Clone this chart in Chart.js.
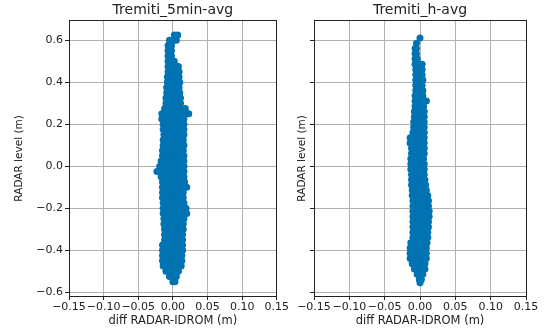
<!DOCTYPE html>
<html>
<head>
<meta charset="utf-8">
<script src="https://cdn.jsdelivr.net/npm/chart.js@4"></script>
<style>
  html, body { margin: 0; padding: 0; background: #fff; }
  #wrap { position: relative; width: 545px; height: 331px; }
  canvas { position: absolute; top: 0; }
  #c1 { left: 0; }
  #c2 { left: 290px; }
</style>
</head>
<body>
<div id="wrap">
  <canvas id="c1" width="290" height="331"></canvas>
  <canvas id="c2" width="255" height="331"></canvas>
</div>
<script>
// Titoli e assi
const titoli = ["Tremiti_5min-avg", "Tremiti_h-avg"];
const labelX = "diff RADAR-IDROM (m)";
const labelY = "RADAR level (m)";
const xTicks = [-0.15, -0.10, -0.05, 0.00, 0.05, 0.10, 0.15];
const yTicks = [-0.6, -0.4, -0.2, 0.0, 0.2, 0.4, 0.6];

// Tremiti_5min-avg: livelli RADAR e differenze lette per ogni livello
const livelli5min = [0.625, 0.600, 0.575, 0.550, 0.525, 0.500, 0.475, 0.450, 0.425, 0.400,
  0.375, 0.350, 0.325, 0.300, 0.275, 0.250, 0.225, 0.200, 0.175, 0.150,
  0.125, 0.100, 0.075, 0.050, 0.025, 0.000, -0.025, -0.050, -0.075, -0.100,
  -0.125, -0.150, -0.175, -0.200, -0.225, -0.250, -0.275, -0.300, -0.325, -0.350,
  -0.375, -0.400, -0.425, -0.450, -0.475, -0.500, -0.525, -0.550];
const diff5min = [
  [0.002, 0.007],
  [-0.005, 0.001, 0.005],
  [-0.007, -0.002],
  [-0.007, -0.002],
  [-0.007, -0.002],
  [-0.007, -0.002, 0.002],
  [-0.007, -0.001, 0.005, 0.008],
  [-0.007, -0.001, 0.005, 0.009],
  [-0.008, -0.002, 0.004, 0.009],
  [-0.008, -0.002, 0.004, 0.010],
  [-0.009, -0.003, 0.003, 0.009],
  [-0.009, -0.003, 0.003, 0.010],
  [-0.010, -0.004, 0.002, 0.008, 0.011],
  [-0.010, -0.004, 0.002, 0.008, 0.011],
  [-0.012, -0.006, 0.000, 0.006, 0.012, 0.018],
  [-0.016, -0.010, -0.004, 0.002, 0.008, 0.014, 0.020, 0.023],
  [-0.016, -0.010, -0.004, 0.002, 0.008, 0.014, 0.016],
  [-0.014, -0.008, -0.002, 0.004, 0.010, 0.016],
  [-0.014, -0.008, -0.002, 0.004, 0.010, 0.016],
  [-0.013, -0.007, -0.001, 0.005, 0.011, 0.016],
  [-0.014, -0.008, -0.002, 0.004, 0.010, 0.015],
  [-0.014, -0.008, -0.002, 0.004, 0.010, 0.016],
  [-0.015, -0.009, -0.003, 0.003, 0.009, 0.015],
  [-0.015, -0.009, -0.003, 0.003, 0.009, 0.016],
  [-0.017, -0.011, -0.005, 0.001, 0.007, 0.013, 0.016],
  [-0.019, -0.013, -0.007, -0.001, 0.005, 0.011, 0.016],
  [-0.023, -0.017, -0.011, -0.005, 0.001, 0.007, 0.013, 0.016],
  [-0.017, -0.011, -0.005, 0.001, 0.007, 0.013, 0.016],
  [-0.015, -0.009, -0.003, 0.003, 0.009, 0.015, 0.017],
  [-0.015, -0.009, -0.003, 0.003, 0.009, 0.015, 0.020],
  [-0.015, -0.009, -0.003, 0.003, 0.009, 0.015],
  [-0.015, -0.009, -0.003, 0.003, 0.009, 0.015],
  [-0.014, -0.008, -0.002, 0.004, 0.010, 0.016],
  [-0.014, -0.008, -0.002, 0.004, 0.010, 0.016, 0.019],
  [-0.014, -0.008, -0.002, 0.004, 0.010, 0.016, 0.020],
  [-0.013, -0.007, -0.001, 0.005, 0.011, 0.016],
  [-0.013, -0.007, -0.001, 0.005, 0.011, 0.015],
  [-0.012, -0.006, 0.000, 0.006, 0.012, 0.015],
  [-0.012, -0.006, 0.000, 0.006, 0.012, 0.014],
  [-0.012, -0.006, 0.000, 0.006, 0.012, 0.014],
  [-0.015, -0.009, -0.003, 0.003, 0.009, 0.014],
  [-0.015, -0.009, -0.003, 0.003, 0.009, 0.014],
  [-0.015, -0.009, -0.003, 0.003, 0.009, 0.013],
  [-0.015, -0.009, -0.003, 0.003, 0.009, 0.013],
  [-0.014, -0.008, -0.002, 0.004, 0.010, 0.012],
  [-0.010, -0.004, 0.002, 0.008],
  [-0.005, 0.001, 0.005],
  [0.000, 0.003]
];

// Tremiti_h-avg
const livelliOra = [0.610, 0.585, 0.560, 0.535, 0.510, 0.485, 0.460, 0.435, 0.410, 0.385,
  0.360, 0.335, 0.310, 0.285, 0.260, 0.235, 0.210, 0.185, 0.160, 0.135,
  0.110, 0.085, 0.060, 0.035, 0.010, -0.015, -0.040, -0.065, -0.090, -0.115,
  -0.140, -0.165, -0.190, -0.215, -0.240, -0.265, -0.290, -0.315, -0.340, -0.365,
  -0.390, -0.415, -0.440, -0.465, -0.490, -0.515, -0.540, -0.555];
const diffOra = [
  [0.000],
  [-0.005],
  [-0.007, -0.005],
  [-0.007, -0.005],
  [-0.007, -0.004],
  [-0.007, -0.002, 0.003],
  [-0.006, 0.000, 0.003],
  [-0.006, 0.000, 0.003],
  [-0.006, 0.000, 0.004],
  [-0.006, 0.000, 0.003],
  [-0.006, 0.000, 0.004],
  [-0.007, -0.001, 0.004],
  [-0.007, -0.001, 0.005, 0.009],
  [-0.007, -0.001, 0.005],
  [-0.008, -0.002, 0.004, 0.006],
  [-0.008, -0.002, 0.004, 0.006],
  [-0.009, -0.003, 0.003, 0.006],
  [-0.009, -0.003, 0.003, 0.006],
  [-0.010, -0.004, 0.002, 0.006],
  [-0.014, -0.008, -0.002, 0.004, 0.006],
  [-0.014, -0.008, -0.002, 0.004, 0.006],
  [-0.012, -0.006, 0.000, 0.006],
  [-0.012, -0.006, 0.000, 0.006],
  [-0.013, -0.007, -0.001, 0.005],
  [-0.013, -0.007, -0.001, 0.005, 0.006],
  [-0.013, -0.007, -0.001, 0.005, 0.006],
  [-0.012, -0.006, 0.000, 0.006],
  [-0.012, -0.006, 0.000, 0.006, 0.007],
  [-0.012, -0.006, 0.000, 0.006, 0.008],
  [-0.011, -0.005, 0.001, 0.007, 0.009],
  [-0.011, -0.005, 0.001, 0.007, 0.011],
  [-0.010, -0.004, 0.002, 0.008, 0.012],
  [-0.010, -0.004, 0.002, 0.008, 0.012],
  [-0.010, -0.004, 0.002, 0.008, 0.013],
  [-0.010, -0.004, 0.002, 0.008, 0.013],
  [-0.010, -0.004, 0.002, 0.008, 0.012],
  [-0.010, -0.004, 0.002, 0.008, 0.012],
  [-0.010, -0.004, 0.002, 0.008, 0.011],
  [-0.010, -0.004, 0.002, 0.008, 0.011],
  [-0.013, -0.007, -0.001, 0.005, 0.010],
  [-0.014, -0.008, -0.002, 0.004, 0.009],
  [-0.014, -0.008, -0.002, 0.004, 0.009],
  [-0.014, -0.008, -0.002, 0.004, 0.009],
  [-0.011, -0.005, 0.001, 0.007],
  [-0.008, -0.002, 0.004, 0.007],
  [-0.004, 0.002, 0.004],
  [-0.001, 0.002],
  [0.000]
];

const BLU = "#0173b2";
const NERO = "#222222";
const GRIGLIA = "#b0b0b0";

Chart.defaults.font.family = "'DejaVu Sans', sans-serif";
Chart.defaults.color = NERO;

function punti(livelli, diff) {
  return livelli.flatMap((y, i) => diff[i].map(x => ({ x: x, y: y })));
}

function meno(v, dec) {
  const s = Math.abs(v).toFixed(dec);
  return v < -1e-9 ? "\u2212" + s : s;
}

// Crea un pannello; larghezzaY = spazio per asse Y, destra = margine destro
function creaPannello(id, titolo, dati, larghezzaY, destra, mostraTickY, padTitoloY) {
  const ctx = document.getElementById(id).getContext("2d");
  return new Chart(ctx, {
    type: "scatter",
    data: {
      datasets: [{
        data: dati,
        backgroundColor: BLU,
        borderColor: BLU,
        borderWidth: 0,
        pointRadius: 3.5,
        pointHoverRadius: 3.5
      }]
    },
    options: {
      responsive: false,
      animation: false,
      events: [],
      layout: { padding: { left: 0, right: destra, top: 0, bottom: 0 } },
      plugins: {
        legend: { display: false },
        tooltip: { enabled: false },
        title: {
          display: true,
          fullSize: false,
          text: titolo,
          color: NERO,
          font: { size: 14, weight: "normal" },
          padding: { top: 2, bottom: 2 }
        }
      },
      scales: {
        x: {
          type: "linear",
          position: "bottom",
          min: -0.15,
          max: 0.15,
          z: 1,
          afterBuildTicks: s => { s.ticks = xTicks.map(v => ({ value: v })); },
          afterFit: s => { s.height = 35; },
          ticks: {
            autoSkip: false,
            maxRotation: 0,
            padding: 1,
            color: NERO,
            font: { size: 11 },
            callback: v => meno(v, 2)
          },
          grid: { color: GRIGLIA, lineWidth: 1, tickLength: 4, tickColor: NERO },
          border: { color: NERO, width: 1 },
          title: {
            display: true,
            text: labelX,
            color: NERO,
            font: { size: 11.5 },
            padding: { top: 0, bottom: 3 }
          }
        },
        y: {
          type: "linear",
          position: "left",
          min: -0.618,
          max: 0.692,
          z: 1,
          afterBuildTicks: s => { s.ticks = yTicks.map(v => ({ value: v })); },
          afterFit: s => { s.width = larghezzaY; },
          ticks: {
            display: mostraTickY,
            padding: 2,
            color: NERO,
            font: { size: 11 },
            callback: v => meno(v, 1)
          },
          grid: { color: GRIGLIA, lineWidth: 1, tickLength: 4, tickColor: NERO },
          border: { color: NERO, width: 1 },
          title: {
            display: true,
            text: labelY,
            color: NERO,
            font: { size: 10.5 },
            padding: { top: padTitoloY, bottom: 0 }
          }
        },
        xTop: {
          type: "linear",
          position: "top",
          display: true,
          z: 1,
          afterFit: s => { s.height = 0; },
          ticks: { display: false },
          grid: { display: false, drawTicks: false },
          border: { color: NERO, width: 1 }
        },
        yRight: {
          type: "linear",
          position: "right",
          display: true,
          z: 1,
          afterFit: s => { s.width = 0; },
          ticks: { display: false },
          grid: { display: false, drawTicks: false },
          border: { color: NERO, width: 1 }
        }
      }
    }
  });
}

creaPannello("c1", titoli[0], punti(livelli5min, diff5min), 69, 9, true, 13);
creaPannello("c2", titoli[1], punti(livelliOra, diffOra), 24, 19, false, 6);
</script>
</body>
</html>
